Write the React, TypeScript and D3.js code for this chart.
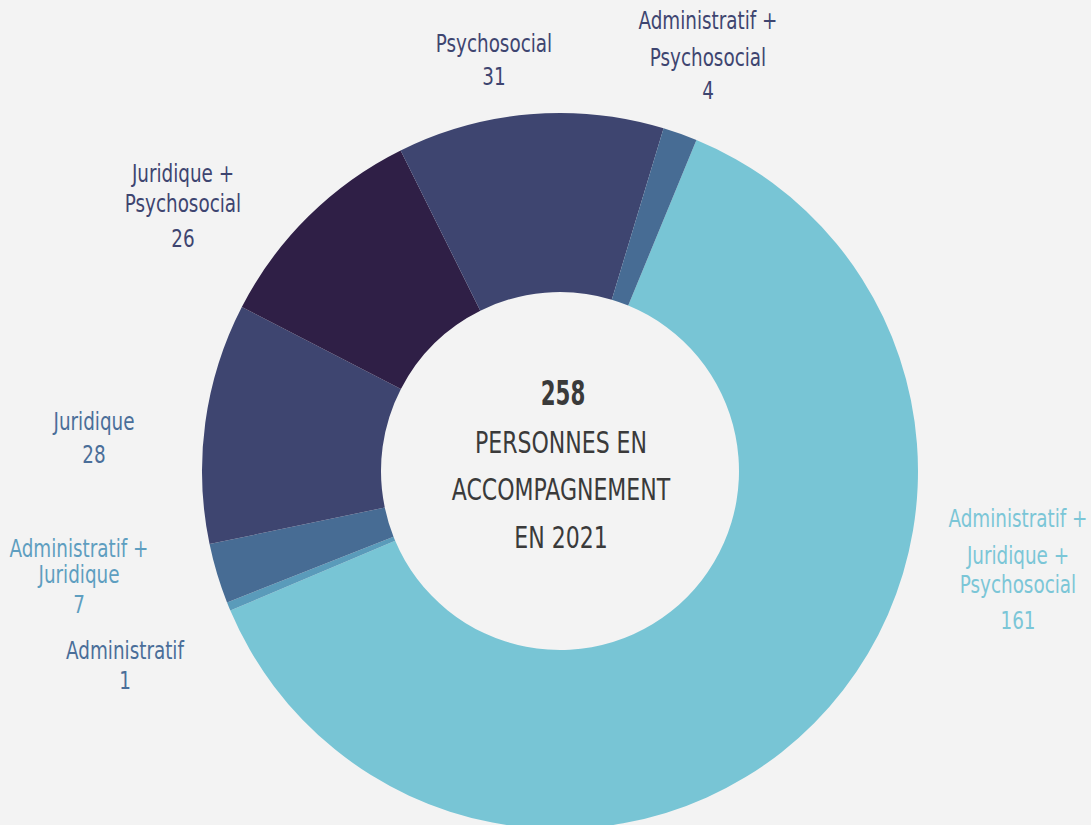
import React from "react";
import * as d3 from "d3";

const categories = [
  "Administratif + Juridique + Psychosocial",
  "Administratif",
  "Administratif + Juridique",
  "Juridique",
  "Juridique + Psychosocial",
  "Psychosocial",
  "Administratif + Psychosocial",
];
const values = [161, 1, 7, 28, 26, 31, 4];
const sliceColors = ["#78C5D5", "#5A9BBA", "#476C94", "#3E4570", "#2F1F46", "#3E4570", "#476C94"];
const labelLines = [
  ["Administratif +", "Juridique +", "Psychosocial", "161"],
  ["Administratif", "1"],
  ["Administratif +", "Juridique", "7"],
  ["Juridique", "28"],
  ["Juridique +", "Psychosocial", "26"],
  ["Psychosocial", "31"],
  ["Administratif +", "Psychosocial", "4"],
];
const labelColors = ["#7BC6D7", "#4A6E99", "#5E9EC0", "#4A6E99", "#3E4570", "#3E4570", "#3E4570"];
const labelX = [1018, 125, 79, 94, 183, 494, 708];
const labelBaselines = [
  [527, 564, 593, 629],
  [659, 689],
  [557, 583, 613],
  [430, 463],
  [182, 212, 247],
  [52, 85],
  [29, 66, 99],
];
const totalValue = 258;
const centerLines = ["PERSONNES EN", "ACCOMPAGNEMENT", "EN 2021"];

export default function App() {
  const width = 1091;
  const height = 825;
  const cx = 560;
  const cy = 471;
  const outerR = 358;
  const innerR = 179;
  const start = (22.4 * Math.PI) / 180;

  const pie = d3
    .pie<number>()
    .sort(null)
    .value((d) => d)
    .startAngle(start)
    .endAngle(start + 2 * Math.PI);
  const arcs = pie(values);
  const arc = d3.arc<d3.PieArcDatum<number>>().innerRadius(innerR).outerRadius(outerR);

  const font = "'DejaVu Sans Condensed', 'DejaVu Sans', sans-serif";
  const sx = 0.8;

  const T = (x: number, y: number, s: number, content: any, props: any = {}) => (
    <g transform={`translate(${x},${y}) scale(${s},1)`}>
      <text x={0} y={0} textAnchor="middle" {...props}>
        {content}
      </text>
    </g>
  );

  return (
    <svg
      width={width}
      height={height}
      style={{ position: "absolute", left: 0, top: 0, background: "#F3F3F3" }}
    >
      <rect x={0} y={0} width={width} height={height} fill="#F3F3F3" />
      <g transform={`translate(${cx},${cy})`}>
        {arcs.map((a, i) => (
          <path key={categories[i]} d={arc(a) || ""} fill={sliceColors[i]} />
        ))}
      </g>
      {labelLines.map((lines, i) => (
        <g key={"l" + i} fill={labelColors[i]} fontFamily={font} fontSize={25.5}>
          {lines.map((t, j) => (
            <React.Fragment key={j}>{T(labelX[i], labelBaselines[i][j], sx, t)}</React.Fragment>
          ))}
        </g>
      ))}
      <g fontFamily={font} fill="#3A3A3A">
        {T(563, 405, 0.72, totalValue, { fontSize: 33, fontWeight: "bold" })}
        {centerLines.map((t, j) => (
          <React.Fragment key={t}>{T(561, 452.5 + j * 47.5, 0.79, t, { fontSize: 31 })}</React.Fragment>
        ))}
      </g>
    </svg>
  );
}
